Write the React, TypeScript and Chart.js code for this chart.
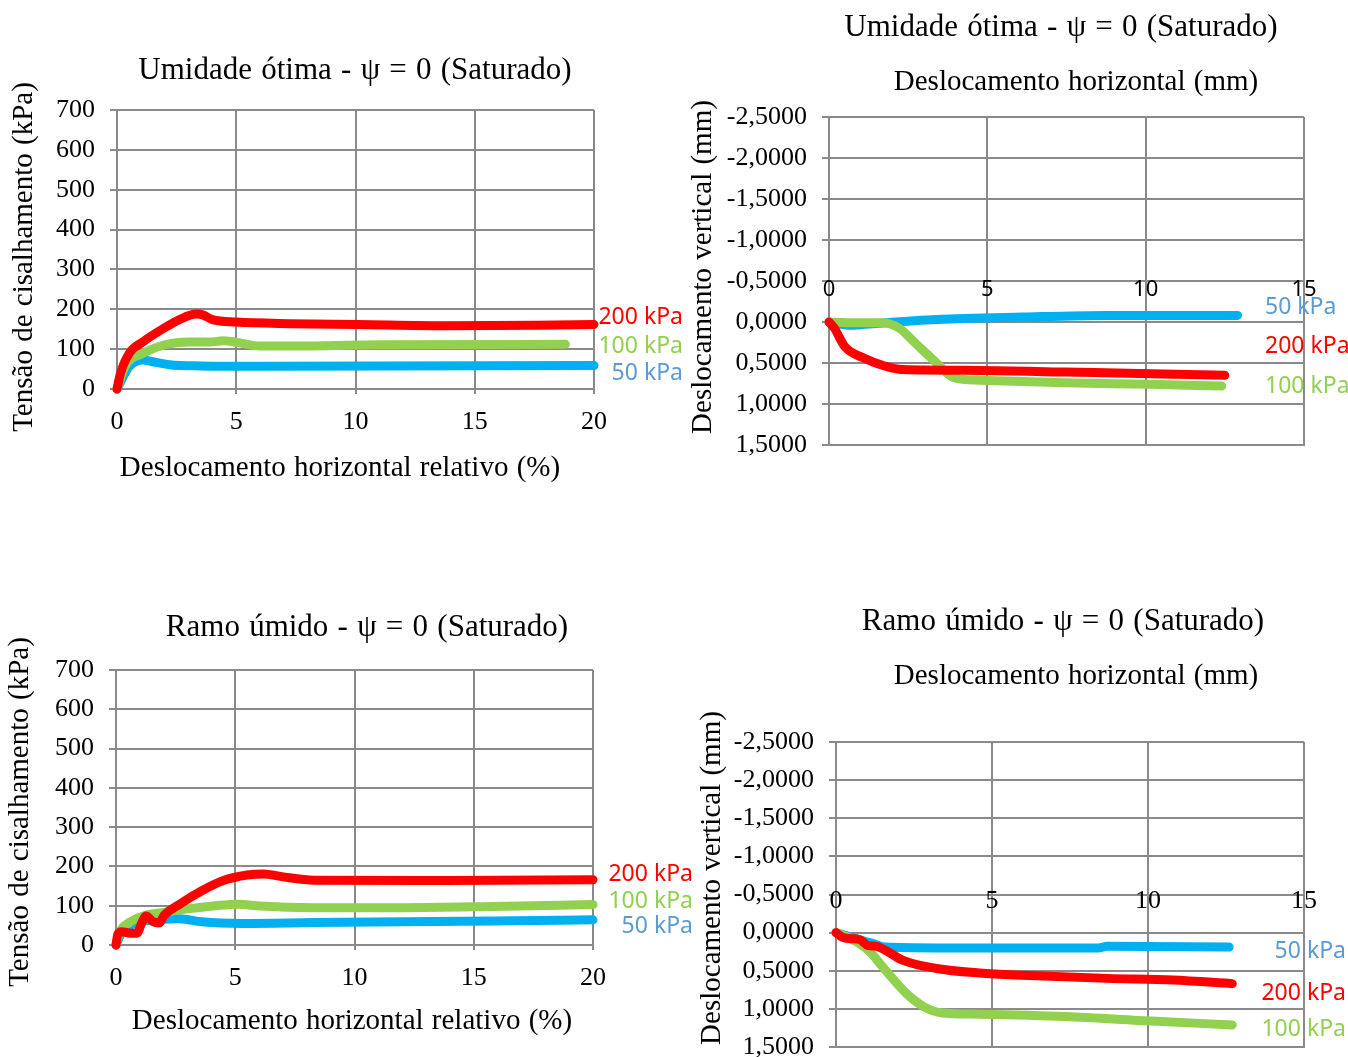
import React, { useEffect, useRef } from 'react';
import { Chart, registerables } from 'chart.js';

Chart.register(...registerables);

type Pt = [number, number];

// ---------- shared series info ----------
const seriesNames = ['200 kPa', '100 kPa', '50 kPa'];
const seriesColors = ['#FF0000', '#92D050', '#00B0F0'];
const labelColors = ['#FF0000', '#92D050', '#5B9BD5'];

// ---------- tick values ----------
const shearXTicks = [0, 5, 10, 15, 20];
const shearYTicks = [0, 100, 200, 300, 400, 500, 600, 700];
const dispXTicks = [0, 5, 10, 15];
const dispYTicks = [-2.5, -2.0, -1.5, -1.0, -0.5, 0, 0.5, 1.0, 1.5];

// ---------- Chart 1: Umidade ótima – tensão de cisalhamento x desl. relativo (%) ----------
const otimaShear200: Pt[] = [[0, 0], [0.15, 40], [0.52, 90], [1.1, 119], [1.84, 148], [2.58, 173], [3.33, 188], [3.6, 186], [4.0, 174], [5.0, 168], [7.3, 164], [10.1, 162], [13.8, 159], [17.6, 160], [20, 162]];
const otimaShear100: Pt[] = [[0, 0], [0.34, 57], [1.1, 90], [2.0, 111], [3.0, 118], [3.9, 118], [4.46, 121], [5.2, 115], [5.95, 108], [8.2, 108], [11.0, 111], [18.8, 112]];
const otimaShear50: Pt[] = [[0, 0], [0.52, 57], [1.1, 73], [1.46, 69], [2.2, 61], [3.5, 58], [6.3, 57], [20, 59]];

// ---------- Chart 2: Umidade ótima – desl. vertical x desl. horizontal (mm) ----------
const otimaVert200: Pt[] = [[0, 0], [0.16, 0.07], [0.5, 0.3], [1.1, 0.44], [1.78, 0.54], [2.32, 0.58], [4.76, 0.59], [7.46, 0.61], [10.16, 0.63], [12.5, 0.65]];
const otimaVert100: Pt[] = [[0, 0], [0.7, 0.01], [1.65, 0.01], [2.2, 0.07], [2.73, 0.26], [3.4, 0.5], [3.95, 0.68], [4.76, 0.71], [7.46, 0.74], [10.16, 0.76], [12.4, 0.78]];
const otimaVert50: Pt[] = [[0, 0], [0.7, 0.04], [1.38, 0.02], [3.4, -0.03], [6.1, -0.06], [8.8, -0.08], [12.9, -0.08]];

// ---------- Chart 3: Ramo úmido – tensão de cisalhamento x desl. relativo (%) ----------
const umidoShear200: Pt[] = [[0, 0], [0.08, 28], [0.23, 34], [0.6, 30], [0.88, 30], [1.07, 55], [1.26, 74], [1.54, 60], [1.82, 56], [2.0, 74], [2.67, 104], [3.6, 138], [4.5, 164], [5.5, 178], [6.2, 181], [6.95, 174], [8.3, 165], [13.9, 164], [20, 166]];
const umidoShear100: Pt[] = [[0, 0], [0.13, 30], [0.5, 55], [1.16, 74], [1.9, 82], [3.0, 92], [4.17, 100], [5.1, 104], [6.05, 99], [8.3, 95], [12.05, 95], [15.8, 98], [20, 103]];
const umidoShear50: Pt[] = [[0, 0], [0.23, 30], [0.79, 55], [1.73, 64], [2.67, 67], [3.6, 59], [5.3, 55], [8.3, 57], [12.05, 59], [15.8, 61], [20, 64]];

// ---------- Chart 4: Ramo úmido – desl. vertical x desl. horizontal (mm) ----------
const umidoVert200: Pt[] = [[0, 0], [0.2, 0.06], [0.48, 0.08], [0.75, 0.09], [1.03, 0.17], [1.3, 0.18], [1.58, 0.23], [2.13, 0.36], [3.22, 0.47], [4.6, 0.53], [5.97, 0.56], [8.7, 0.6], [10.8, 0.62], [12.7, 0.67]];
const umidoVert100: Pt[] = [[0, 0], [0.48, 0.08], [1.03, 0.23], [1.58, 0.49], [2.26, 0.8], [2.81, 0.97], [3.36, 1.05], [4.6, 1.07], [7.34, 1.1], [10.1, 1.16], [12.7, 1.21]];
const umidoVert50: Pt[] = [[0, 0], [0.48, 0.06], [1.17, 0.14], [1.58, 0.19], [3.2, 0.2], [8.4, 0.2], [8.7, 0.18], [12.6, 0.19]];

// ---------- layout constants ----------
const PAGE_W = 1348;
const CANVAS_H = 1157;
const XH = 60;
const GRID = '#8a8a8a';
const SERIF = "'Liberation Serif', 'Times New Roman', serif";
const SANS = "'Noto Sans', 'Open Sans', sans-serif";

type TextItem = { text: string; x: number; y: number; font: string; rotate?: number; ws?: string; align?: CanvasTextAlign; color?: string };
type LabelItem = { ds: number; x: number; align: CanvasTextAlign; dy: number };

type Spec = {
  area: { L: number; T: number; R: number; B: number };
  yw: number;
  series: Pt[][];
  xTicks: number[];
  yTicks: number[];
  reverse: boolean;
  fmt: (v: number) => string;
  xMode: 'bottom' | 'zero';
  zeroTickFont?: string;
  zeroTickDy?: number;
  texts: TextItem[];
  labels: LabelItem[];
};

const commaFmt = (v: number) => (Math.abs(v) < 1e-9 ? 0 : v).toFixed(4).replace('.', ',');
const intFmt = (v: number) => String(v);

const TITLE_FONT = `31px ${SERIF}`;
const AXIS_FONT = `29px ${SERIF}`;
const TITLE_WS = '1.5px';
const AXIS_WS = '1px';

const specs: Spec[] = [
  {
    area: { L: 117, T: 110, R: 594, B: 389 },
    yw: 117,
    series: [otimaShear200, otimaShear100, otimaShear50],
    xTicks: shearXTicks,
    yTicks: shearYTicks,
    reverse: false,
    fmt: intFmt,
    xMode: 'bottom',
    texts: [
      { text: 'Umidade ótima - ψ = 0 (Saturado)', x: 355, y: 71, font: TITLE_FONT, ws: TITLE_WS },
      { text: 'Tensão de cisalhamento (kPa)', x: 24, y: 257, font: AXIS_FONT, rotate: -Math.PI / 2, ws: AXIS_WS },
      { text: 'Deslocamento horizontal relativo (%)', x: 340, y: 468, font: AXIS_FONT, ws: AXIS_WS },
    ],
    labels: [
      { ds: 0, x: 683, align: 'right', dy: -7 },
      { ds: 1, x: 683, align: 'right', dy: 2 },
      { ds: 2, x: 683, align: 'right', dy: 8 },
    ],
  },
  {
    area: { L: 829, T: 117, R: 1304, B: 445 },
    yw: 115,
    series: [otimaVert200, otimaVert100, otimaVert50],
    xTicks: dispXTicks,
    yTicks: dispYTicks,
    reverse: true,
    fmt: commaFmt,
    xMode: 'zero',
    zeroTickFont: `22px ${SANS}`,
    zeroTickDy: -32,
    texts: [
      { text: 'Umidade ótima - ψ = 0 (Saturado)', x: 1061, y: 28, font: TITLE_FONT, ws: TITLE_WS },
      { text: 'Deslocamento horizontal (mm)', x: 1076, y: 82, font: AXIS_FONT, ws: AXIS_WS },
      { text: 'Deslocamento vertical (mm)', x: 703, y: 267, font: AXIS_FONT, rotate: -Math.PI / 2, ws: AXIS_WS },
    ],
    labels: [
      { ds: 0, x: 1265, align: 'left', dy: -29 },
      { ds: 1, x: 1265, align: 'left', dy: 0 },
      { ds: 2, x: 1265, align: 'left', dy: -8 },
    ],
  },
  {
    area: { L: 116, T: 670, R: 593, B: 945 },
    yw: 116,
    series: [umidoShear200, umidoShear100, umidoShear50],
    xTicks: shearXTicks,
    yTicks: shearYTicks,
    reverse: false,
    fmt: intFmt,
    xMode: 'bottom',
    texts: [
      { text: 'Ramo úmido - ψ = 0 (Saturado)', x: 367, y: 628, font: TITLE_FONT, ws: TITLE_WS },
      { text: 'Tensão de cisalhamento (kPa)', x: 20, y: 812, font: AXIS_FONT, rotate: -Math.PI / 2, ws: AXIS_WS },
      { text: 'Deslocamento horizontal relativo (%)', x: 352, y: 1021, font: AXIS_FONT, ws: AXIS_WS },
    ],
    labels: [
      { ds: 0, x: 693, align: 'right', dy: -5 },
      { ds: 1, x: 693, align: 'right', dy: -3 },
      { ds: 2, x: 693, align: 'right', dy: 7 },
    ],
  },
  {
    area: { L: 836, T: 742, R: 1304, B: 1047 },
    yw: 110,
    series: [umidoVert200, umidoVert100, umidoVert50],
    xTicks: dispXTicks,
    yTicks: dispYTicks,
    reverse: true,
    fmt: commaFmt,
    xMode: 'zero',
    zeroTickFont: `26px ${SERIF}`,
    zeroTickDy: -31,
    texts: [
      { text: 'Ramo úmido - ψ = 0 (Saturado)', x: 1063, y: 622, font: TITLE_FONT, ws: TITLE_WS },
      { text: 'Deslocamento horizontal (mm)', x: 1076, y: 676, font: AXIS_FONT, ws: AXIS_WS },
      { text: 'Deslocamento vertical (mm)', x: 712, y: 878, font: AXIS_FONT, rotate: -Math.PI / 2, ws: AXIS_WS },
    ],
    labels: [
      { ds: 0, x: 1346, align: 'right', dy: 10 },
      { ds: 1, x: 1346, align: 'right', dy: 5 },
      { ds: 2, x: 1346, align: 'right', dy: 4 },
    ],
  },
];

function buildConfig(spec: Spec): any {
  const { L, T, R, B } = spec.area;
  const YW = spec.yw;
  const xMax = spec.xTicks[spec.xTicks.length - 1];
  const yMin = spec.yTicks[0];
  const yMax = spec.yTicks[spec.yTicks.length - 1];

  const textPlugin = {
    id: 'texts',
    afterDraw(chart: any) {
      const ctx: CanvasRenderingContext2D = chart.ctx;
      spec.texts.forEach((it) => {
        ctx.save();
        ctx.font = it.font;
        ctx.fillStyle = it.color || '#000';
        ctx.textAlign = it.align || 'center';
        ctx.textBaseline = 'middle';
        if (it.ws) (ctx as any).wordSpacing = it.ws;
        ctx.translate(it.x, it.y);
        if (it.rotate) ctx.rotate(it.rotate);
        ctx.fillText(it.text, 0, 0);
        ctx.restore();
      });
    },
  };

  const zeroTickPlugin = {
    id: 'zeroTicks',
    afterDraw(chart: any) {
      if (spec.xMode !== 'zero') return;
      const ctx: CanvasRenderingContext2D = chart.ctx;
      const xs = chart.scales.x;
      const ys = chart.scales.y;
      const y0 = ys.getPixelForValue(0) + (spec.zeroTickDy || 0);
      ctx.save();
      ctx.font = spec.zeroTickFont || `22px ${SANS}`;
      ctx.fillStyle = '#000';
      ctx.textAlign = 'center';
      ctx.textBaseline = 'middle';
      xs.ticks.forEach((t: any) => {
        ctx.fillText(String(t.value), xs.getPixelForValue(t.value), y0);
      });
      ctx.restore();
    },
  };

  const labelPlugin = {
    id: 'seriesLabels',
    afterDatasetsDraw(chart: any) {
      const ctx: CanvasRenderingContext2D = chart.ctx;
      ctx.save();
      ctx.font = `23px ${SANS}`;
      ctx.textBaseline = 'middle';
      spec.labels.forEach((lb) => {
        const meta = chart.getDatasetMeta(lb.ds);
        const last = meta.data[meta.data.length - 1];
        ctx.fillStyle = labelColors[lb.ds];
        ctx.textAlign = lb.align;
        ctx.fillText(seriesNames[lb.ds], lb.x, last.y + lb.dy);
      });
      ctx.restore();
    },
  };

  return {
    type: 'line',
    data: {
      datasets: spec.series.map((pts, i) => ({
        label: seriesNames[i],
        data: pts.map(([x, y]) => ({ x, y })),
        borderColor: seriesColors[i],
        backgroundColor: seriesColors[i],
        borderWidth: 9,
        pointRadius: 0,
        pointHoverRadius: 0,
        fill: false,
        cubicInterpolationMode: 'monotone',
        borderCapStyle: 'round',
        borderJoinStyle: 'round',
        clip: false,
      })),
    },
    options: {
      responsive: false,
      maintainAspectRatio: false,
      animation: false,
      devicePixelRatio: 1,
      events: [],
      layout: {
        padding: { left: L - YW, top: T, right: PAGE_W - R, bottom: CANVAS_H - B - XH },
      },
      plugins: {
        legend: { display: false },
        title: { display: false },
        tooltip: { enabled: false },
      },
      scales: {
        x: {
          type: 'linear',
          position: 'bottom',
          min: 0,
          max: xMax,
          afterBuildTicks: (s: any) => {
            s.ticks = spec.xTicks.map((v) => ({ value: v }));
          },
          afterFit: (s: any) => {
            s.height = XH;
          },
          grid: { color: GRID, lineWidth: 2, drawTicks: spec.xMode === 'bottom', tickLength: 5 },
          border: { display: true, color: GRID, width: 2 },
          ticks: {
            display: spec.xMode === 'bottom',
            color: '#000',
            font: { family: SERIF, size: 26 },
            padding: 13,
            maxRotation: 0,
            autoSkip: false,
            callback: (v: any) => String(v),
          },
        },
        y: {
          type: 'linear',
          position: 'left',
          min: yMin,
          max: yMax,
          reverse: spec.reverse,
          afterBuildTicks: (s: any) => {
            s.ticks = spec.yTicks.map((v) => ({ value: v }));
          },
          afterFit: (s: any) => {
            s.width = YW;
          },
          grid: { color: GRID, lineWidth: 2, drawTicks: true, tickLength: 7 },
          border: { display: true, color: GRID, width: 2 },
          ticks: {
            color: '#000',
            font: { family: SERIF, size: 26 },
            padding: 15,
            autoSkip: false,
            callback: (v: any) => spec.fmt(Number(v)),
          },
        },
      },
    },
    plugins: [labelPlugin, zeroTickPlugin, textPlugin],
  };
}

function ChartPanel({ spec }: { spec: Spec }) {
  const ref = useRef<HTMLCanvasElement>(null);
  useEffect(() => {
    if (!ref.current) return;
    const chart = new Chart(ref.current, buildConfig(spec));
    return () => chart.destroy();
  }, [spec]);
  return (
    <canvas
      ref={ref}
      width={PAGE_W}
      height={CANVAS_H}
      style={{ position: 'absolute', left: 0, top: 0, width: PAGE_W, height: CANVAS_H }}
    />
  );
}

export default function App() {
  return (
    <div
      style={{
        position: 'absolute',
        left: 0,
        top: 0,
        width: PAGE_W,
        height: 1057,
        overflow: 'hidden',
        background: '#fff',
      }}
    >
      {specs.map((s, i) => (
        <ChartPanel key={i} spec={s} />
      ))}
    </div>
  );
}
